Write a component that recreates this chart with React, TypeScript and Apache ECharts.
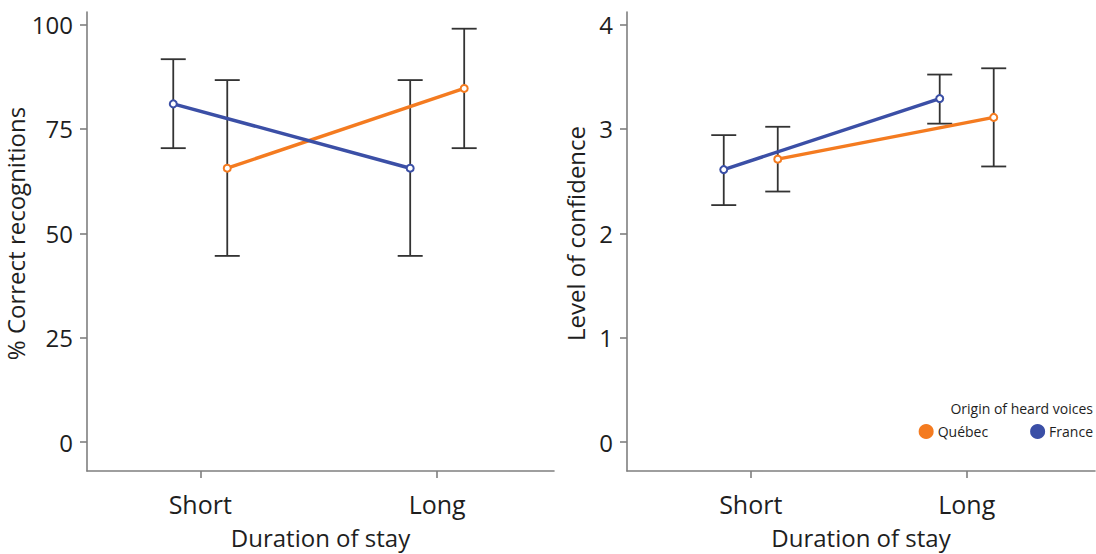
import React, { useEffect, useRef } from "react";
import * as echarts from "echarts";

// ---- data ----
const categories = ["Short", "Long"];
const groups = ["Québec", "France"];

// % correct recognitions (left panel)
const recogQuebec = [65.6, 84.7];
const recogQuebecLow = [44.6, 70.4];
const recogQuebecHigh = [86.7, 99.0];
const recogFrance = [81.0, 65.6];
const recogFranceLow = [70.4, 44.6];
const recogFranceHigh = [91.7, 86.7];

// level of confidence (right panel)
const confQuebec = [2.71, 3.11];
const confQuebecLow = [2.4, 2.64];
const confQuebecHigh = [3.02, 3.58];
const confFrance = [2.61, 3.29];
const confFranceLow = [2.27, 3.05];
const confFranceHigh = [2.94, 3.52];

const recogTicks = [0, 25, 50, 75, 100];
const confTicks = [0, 1, 2, 3, 4];

// ---- style ----
const ORANGE = "#F47B20";
const BLUE = "#3B4FA6";
const AXIS = "#7f7f7f";
const TEXT = "#1e1e1e";
const FONT = "Open Sans";
const DODGE_PX = 27;

const GRID_W_L = 467;
const GRID_W_R = 468;
const X_RANGE_L = [0.522, 2.493];
const X_RANGE_R = [0.427, 2.594];

export default function App() {
  const ref = useRef<HTMLDivElement>(null);

  useEffect(() => {
    if (!ref.current) return;
    const chart = echarts.init(ref.current, undefined, { renderer: "svg" });

    const dodgeL = (DODGE_PX * (X_RANGE_L[1] - X_RANGE_L[0])) / GRID_W_L;
    const dodgeR = (DODGE_PX * (X_RANGE_R[1] - X_RANGE_R[0])) / GRID_W_R;

    const pts = (vals: number[], off: number) =>
      vals.map((v, i) => [i + 1 + off, v]);
    const errs = (lo: number[], hi: number[], off: number) =>
      lo.map((l, i) => [i + 1 + off, l, hi[i]]);

    const errorRender = (params: any, api: any) => {
      const x = api.value(0);
      const lo = api.coord([x, api.value(1)]);
      const hi = api.coord([x, api.value(2)]);
      const cap = 12.5;
      const style = { stroke: "#333333", lineWidth: 1.8 };
      return {
        type: "group",
        children: [
          { type: "line", shape: { x1: lo[0], y1: lo[1], x2: hi[0], y2: hi[1] }, style },
          { type: "line", shape: { x1: lo[0] - cap, y1: lo[1], x2: lo[0] + cap, y2: lo[1] }, style },
          { type: "line", shape: { x1: hi[0] - cap, y1: hi[1], x2: hi[0] + cap, y2: hi[1] }, style },
        ],
      };
    };

    const lineSeries = (name: string, color: string, data: number[][], idx: number) => ({
      type: "line",
      name,
      xAxisIndex: idx,
      yAxisIndex: idx,
      data,
      symbol: "emptyCircle",
      symbolSize: 7,
      z: 5,
      lineStyle: { color, width: 3.5 },
      itemStyle: { color, borderWidth: 2.2, borderColor: color },
    });

    const errSeries = (data: number[][], idx: number) => ({
      type: "custom",
      xAxisIndex: idx,
      yAxisIndex: idx,
      renderItem: errorRender,
      data,
      z: 2,
      silent: true,
    });

    const xAxis = (idx: number, range: number[]) => ({
      type: "value",
      gridIndex: idx,
      min: range[0],
      max: range[1],
      splitLine: { show: false },
      axisLine: { onZero: false, lineStyle: { color: AXIS, width: 1.6 } },
      axisTick: { show: true, length: 7, customValues: [1, 2], lineStyle: { color: AXIS, width: 1.6 } },
      axisLabel: {
        customValues: [1, 2],
        formatter: (v: number) => categories[Math.round(v) - 1] ?? "",
        color: TEXT,
        fontFamily: FONT,
        fontSize: 25,
        margin: 20,
      },
      name: "Duration of stay",
      nameLocation: "middle",
      nameGap: 54,
      nameTextStyle: { color: TEXT, fontFamily: FONT, fontSize: 24 },
    });

    const yAxis = (idx: number, min: number, max: number, ticks: number[], name: string, gap: number) => ({
      type: "value",
      gridIndex: idx,
      min,
      max,
      splitLine: { show: false },
      axisLine: { show: true, onZero: false, lineStyle: { color: AXIS, width: 1.6 } },
      axisTick: { show: true, length: 7, customValues: ticks, lineStyle: { color: AXIS, width: 1.6 } },
      axisLabel: {
        customValues: ticks,
        color: TEXT,
        fontFamily: FONT,
        fontSize: 24,
        margin: 14,
      },
      name,
      nameLocation: "middle",
      nameGap: gap,
      nameTextStyle: { color: TEXT, fontFamily: FONT, fontSize: 24, padding: [0, 0, 0, 16] },
    });

    chart.setOption({
      animation: false,
      backgroundColor: "#ffffff",
      textStyle: { fontFamily: FONT },
      grid: [
        { left: 87, top: 12, width: GRID_W_L, height: 466 },
        { left: 627, top: 12, width: GRID_W_R, height: 466 },
      ],
      xAxis: [xAxis(0, X_RANGE_L), xAxis(1, X_RANGE_R)],
      yAxis: [
        yAxis(0, -6.9, 103, recogTicks, "% Correct recognitions", 41),
        yAxis(1, -0.276, 4.119, confTicks, "Level of confidence", 40),
      ],
      legend: {
        data: [
          { name: groups[0], icon: "circle" },
          { name: groups[1], icon: "circle" },
        ],
        orient: "horizontal",
        right: 3,
        top: 424,
        padding: 0,
        itemWidth: 13,
        itemHeight: 13,
        itemGap: 42,
        textStyle: { color: TEXT, fontFamily: FONT, fontSize: 14 },
        selectedMode: false,
      },
      graphic: [
        {
          type: "text",
          right: 3,
          top: 401,
          style: {
            text: "Origin of heard voices",
            fill: TEXT,
            font: `14px "${FONT}"`,
          },
        },
      ],
      series: [
        errSeries(errs(recogFranceLow, recogFranceHigh, -dodgeL), 0),
        errSeries(errs(recogQuebecLow, recogQuebecHigh, dodgeL), 0),
        lineSeries(groups[0], ORANGE, pts(recogQuebec, dodgeL), 0),
        lineSeries(groups[1], BLUE, pts(recogFrance, -dodgeL), 0),
        errSeries(errs(confFranceLow, confFranceHigh, -dodgeR), 1),
        errSeries(errs(confQuebecLow, confQuebecHigh, dodgeR), 1),
        lineSeries(groups[0], ORANGE, pts(confQuebec, dodgeR), 1),
        lineSeries(groups[1], BLUE, pts(confFrance, -dodgeR), 1),
      ],
    });

    return () => chart.dispose();
  }, []);

  return (
    <div
      ref={ref}
      style={{ position: "fixed", left: 0, top: 0, width: 1096, height: 554, background: "#fff" }}
    />
  );
}
